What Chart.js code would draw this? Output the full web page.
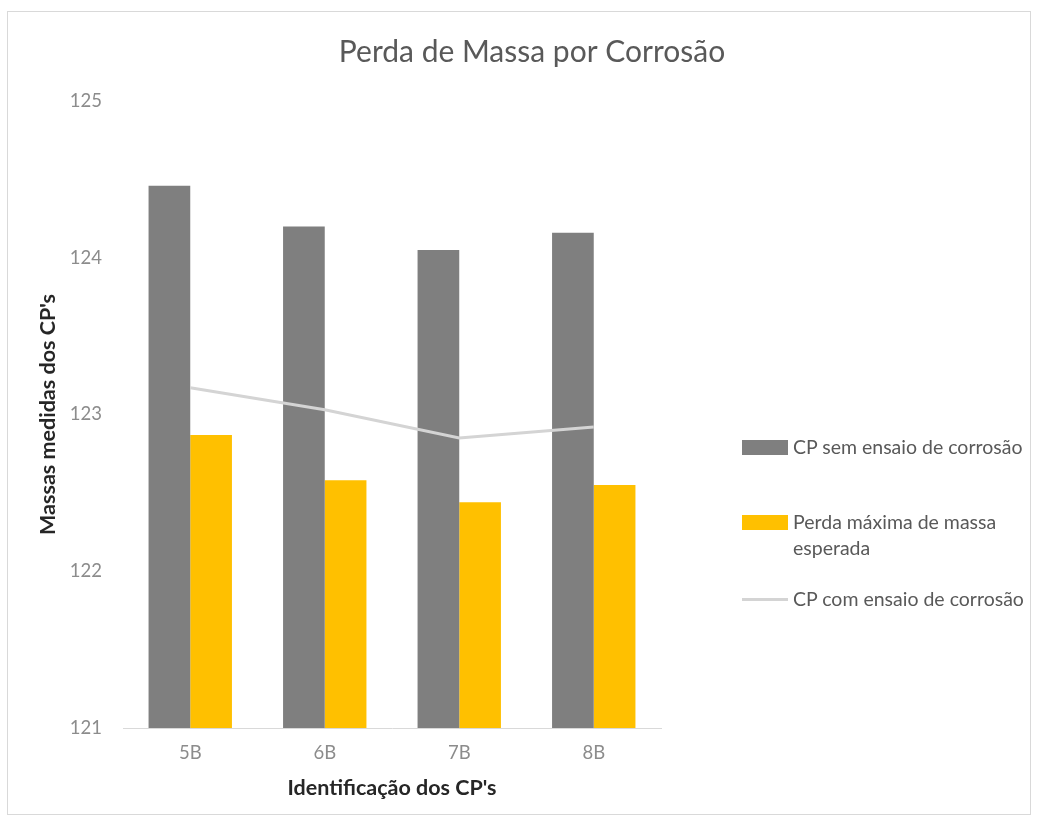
<!DOCTYPE html>
<html lang="pt">
<head>
  <meta charset="UTF-8">
  <title>Perda de Massa por Corrosão</title>
  <script src="https://cdn.jsdelivr.net/npm/chart.js"></script>
  <style>
    body {
      margin: 0;
      background: white;
      font-family: Lato, sans-serif;
    }

    .wrap {
      position: relative;
      width: 1041px;
      height: 820px;
    }

    .frame {
      position: absolute;
      left: 7px;
      top: 11px;
      width: 1024px;
      height: 804px;
      border: 1px solid #d9d9d9;
      box-sizing: border-box;
    }

    canvas {
      position: absolute;
      left: 0;
      top: 0;
    }

    #legend {
      position: absolute;
      left: 742px;
      top: 434px;
      color: #595959;
      font-size: 19.5px;
      line-height: 26px;
    }

    .item {
      display: flex;
      align-items: flex-start;
    }

    .swatch {
      width: 46px;
      flex: none;
      margin-right: 5px;
    }

    .item span.text {
      max-width: 245px;
    }
  </style>
</head>
<body>
  <div class="wrap">
    <div class="frame"></div>
    <canvas id="massChart" width="1041" height="820"></canvas>
    <div id="legend"></div>
  </div>

  <script>
    const categories = ['5B', '6B', '7B', '8B'];
    const semEnsaio = [124.46, 124.20, 124.05, 124.16];   // CP sem ensaio de corrosão
    const perdaMaxima = [122.87, 122.58, 122.44, 122.55]; // Perda máxima de massa esperada
    const comEnsaio = [123.17, 123.03, 122.85, 122.92];   // CP com ensaio de corrosão
    const yTicks = [121, 122, 123, 124, 125];

    Chart.defaults.font.family = 'Lato, sans-serif';

    const ctx = document.getElementById('massChart').getContext('2d');

    const chart = new Chart(ctx, {
      data: {
        labels: categories,
        datasets: [
          {
            type: 'bar',
            label: 'CP sem ensaio de corrosão',
            data: semEnsaio,
            backgroundColor: '#7f7f7f',
            categoryPercentage: 0.62,
            barPercentage: 1.0,
            order: 1
          },
          {
            type: 'bar',
            label: 'Perda máxima de massa esperada',
            data: perdaMaxima,
            backgroundColor: '#ffc000',
            categoryPercentage: 0.62,
            barPercentage: 1.0,
            order: 1
          },
          {
            type: 'line',
            label: 'CP com ensaio de corrosão',
            data: comEnsaio,
            borderColor: '#d4d4d4',
            backgroundColor: '#d4d4d4',
            borderWidth: 3,
            pointRadius: 0,
            tension: 0,
            order: 0
          }
        ]
      },
      options: {
        responsive: false,
        animation: false,
        layout: {
          padding: { left: 33, right: 10, top: 0, bottom: 15 }
        },
        plugins: {
          legend: { display: false },
          tooltip: { enabled: false },
          title: {
            display: true,
            text: 'Perda de Massa por Corrosão',
            color: '#595959',
            font: { size: 30, weight: 'normal' },
            padding: { top: 34, bottom: 31 }
          }
        },
        scales: {
          x: {
            grid: { display: false, drawTicks: false },
            border: { display: true, color: '#d9d9d9', width: 1 },
            ticks: { color: '#8c8c8c', font: { size: 18.5 }, padding: 14 },
            title: {
              display: true,
              text: "Identificação dos CP's",
              color: '#262626',
              font: { size: 21.5, weight: 'bold' },
              padding: { top: -3, bottom: 4 }
            }
          },
          y: {
            min: yTicks[0],
            max: yTicks[yTicks.length - 1],
            grid: { display: false, drawTicks: false },
            border: { display: false },
            afterBuildTicks: scale => {
              scale.ticks = yTicks.map(v => ({ value: v }));
            },
            afterFit: scale => { scale.width = 90; },
            ticks: { color: '#8c8c8c', font: { size: 18.5 }, padding: 21 },
            title: {
              display: true,
              text: "Massas medidas dos CP's",
              color: '#262626',
              font: { size: 21.5, weight: 'bold' },
              padding: { top: 2, bottom: 4 }
            }
          },
          // empty axis that keeps room on the right for the legend
          spacer: {
            type: 'linear',
            position: 'right',
            grid: { display: false },
            border: { display: false },
            ticks: { display: false },
            afterFit: scale => { scale.width = 370; }
          }
        }
      }
    });

    // html legend, built from the chart's datasets
    const legendGaps = [0, 49, 25];
    const legendEl = document.getElementById('legend');
    chart.data.datasets.forEach((ds, i) => {
      const item = document.createElement('div');
      item.className = 'item';
      item.style.marginTop = legendGaps[i] + 'px';

      const sw = document.createElement('span');
      sw.className = 'swatch';
      if (ds.type === 'line') {
        sw.style.height = ds.borderWidth + 'px';
        sw.style.marginTop = (13 - ds.borderWidth / 2) + 'px';
        sw.style.background = ds.borderColor;
      } else {
        sw.style.height = '15px';
        sw.style.marginTop = '5.5px';
        sw.style.background = ds.backgroundColor;
      }

      const txt = document.createElement('span');
      txt.className = 'text';
      txt.textContent = ds.label;

      item.appendChild(sw);
      item.appendChild(txt);
      legendEl.appendChild(item);
    });
  </script>
</body>
</html>
